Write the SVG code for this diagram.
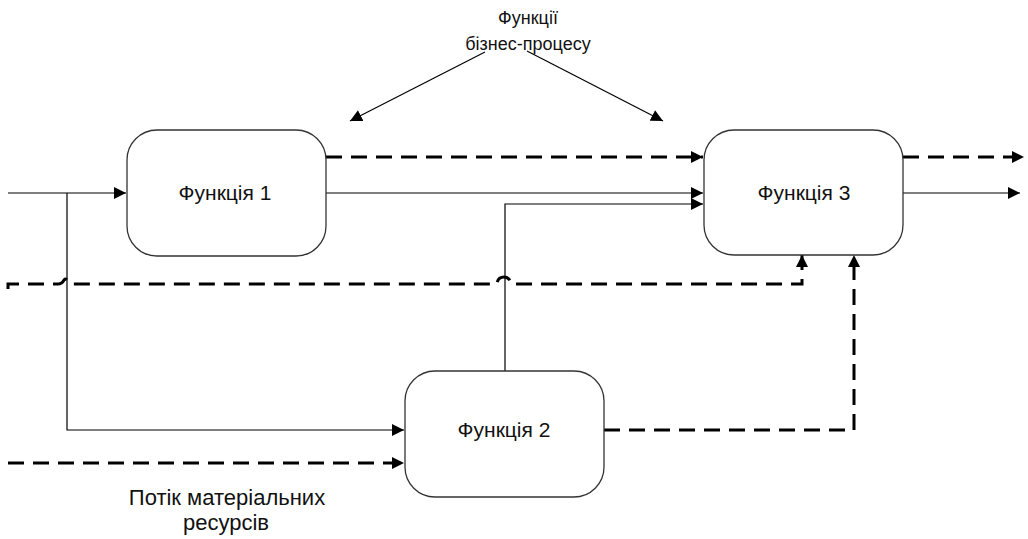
<svg xmlns="http://www.w3.org/2000/svg" width="1028" height="539" viewBox="0 0 1028 539">
<defs>
<style>
.node{fill:#fff;stroke:#333;stroke-width:1.3}
.lbl{font-family:"Liberation Sans",Arial,sans-serif;font-size:21px;fill:#111;text-anchor:middle}
.top{font-size:18px}
.bot{font-size:22px}
.s{fill:none;stroke:#000;stroke-width:1.2}
.d{fill:none;stroke:#000;stroke-width:3;stroke-dasharray:16 9}
.ah{fill:#000}
</style>
<marker id="a" viewBox="0 0 12 12" refX="12" refY="6" markerWidth="12" markerHeight="12" markerUnits="userSpaceOnUse" orient="auto"><path class="ah" d="M0,0 L12,6 L0,12 Z"/></marker>
</defs>
<g id="connectors">
<path class="s" d="M8,193 H126" marker-end="url(#a)"/>
<path class="s" d="M67,193 V430 H404" marker-end="url(#a)"/>
<path class="s" d="M326,193 H703" marker-end="url(#a)"/>
<path class="s" d="M505,371 V204 H703" marker-end="url(#a)"/>
<path class="s" d="M903,193 H1020" marker-end="url(#a)"/>
<path class="s" d="M485,52 L350,121" marker-end="url(#a)"/>
<path class="s" d="M527,51 L663,121" marker-end="url(#a)"/>
<path class="d" d="M326,157 H703" marker-end="url(#a)"/>
<path class="d" d="M903,157 H1024" marker-end="url(#a)"/>
<path class="d" d="M8,289 V284 H58 Q62,284 64,280 Q66,277 70,284 H497 A7,7 0 0 1 511,284 H802 V255" marker-end="url(#a)"/>
<path class="d" d="M604,430 H854 V255" marker-end="url(#a)"/>
<path class="d" d="M8,463 H404" marker-end="url(#a)"/>
</g>
<g id="f1"><rect class="node" x="127" y="130" width="199" height="126" rx="30" ry="30"/><text class="lbl" x="225" y="200">Функція 1</text></g>
<g id="f3"><rect class="node" x="704" y="130" width="199" height="125" rx="30" ry="30"/><text class="lbl" x="804" y="200">Функція 3</text></g>
<g id="f2"><rect class="node" x="405" y="371" width="199" height="126" rx="30" ry="30"/><text class="lbl" x="504" y="437">Функція 2</text></g>
<g id="note1"><text class="lbl top" x="528" y="24">Функції</text><text class="lbl top" x="528" y="50">бізнес-процесу</text></g>
<g id="note2"><text class="lbl bot" x="227" y="505">Потік матеріальних</text><text class="lbl bot" x="226" y="530">ресурсів</text></g>
</svg>
